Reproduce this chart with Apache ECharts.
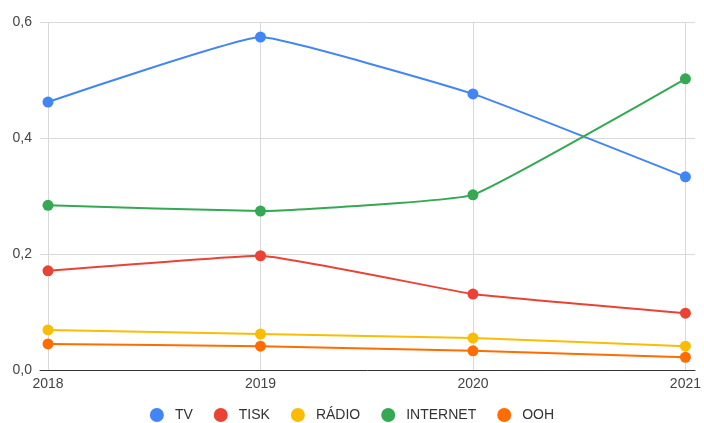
<!DOCTYPE html>
<html><head><meta charset="utf-8">
<script src="https://cdn.jsdelivr.net/npm/echarts@6/dist/echarts.min.js"></script>
<style>html,body{margin:0;padding:0;background:#fff}#c{width:704px;height:423px}</style>
</head><body><div id="c"></div>
<script>
const years = ['2018','2019','2020','2021'];
const tv = [0.462, 0.574, 0.476, 0.333];
const tisk = [0.171, 0.197, 0.131, 0.098];
const radio = [0.069, 0.062, 0.055, 0.041];
const internet = [0.284, 0.274, 0.302, 0.502];
const ooh = [0.045, 0.041, 0.033, 0.022];
const names = ['TV','TISK','RÁDIO','INTERNET','OOH'];
const colors = ['#4285f4','#ea4335','#fbbc04','#34a853','#ff6d01'];
const values = [tv, tisk, radio, internet, ooh];

const chart = echarts.init(document.getElementById('c'));
const font = '"Liberation Sans", Arial, sans-serif';
chart.setOption({
  animation: false,
  color: colors,
  textStyle: {fontFamily: font},
  grid: [
    {left: 40, right: 9, top: 22, bottom: 53},
    {left: 48, right: 17, top: 22, bottom: 53}
  ],
  xAxis: [
    {gridIndex: 0, type: 'value', min: 0, max: 1, axisLine: {show: true, lineStyle: {color: '#333', width: 1}},
     axisTick: {show: false}, axisLabel: {show: false}, splitLine: {show: false}},
    {gridIndex: 1, type: 'category', data: years, boundaryGap: false,
     axisLine: {show: false}, axisTick: {show: false},
     axisLabel: {color: '#444', fontSize: 14, margin: 7, fontFamily: font},
     splitLine: {show: true, lineStyle: {color: '#d9d9d9', width: 1}}}
  ],
  yAxis: [
    {gridIndex: 0, type: 'value', min: 0, max: 0.6, interval: 0.2,
     axisLine: {show: false}, axisTick: {show: false},
     axisLabel: {color: '#444', fontSize: 14, margin: 8, fontFamily: font,
       formatter: v => v.toFixed(1).replace('.', ',')},
     splitLine: {show: true, lineStyle: {color: '#d9d9d9', width: 1}}},
    {gridIndex: 1, type: 'value', min: 0, max: 0.6, interval: 0.2, show: false, splitLine: {show: false}}
  ],
  legend: {
    top: 403, left: 'center', icon: 'circle', itemWidth: 14, itemHeight: 14, itemGap: 21,
    textStyle: {color: '#333', fontSize: 14, fontFamily: font, padding: [0, 0, 0, 6]},
    data: names
  },
  series: names.map((n, i) => ({
    name: n, type: 'line', xAxisIndex: 1, yAxisIndex: 1, data: values[i],
    smooth: 0.1, symbol: 'circle', symbolSize: 11,
    lineStyle: {width: 2, color: colors[i]}, itemStyle: {color: colors[i]}
  }))
});
</script></body></html>
